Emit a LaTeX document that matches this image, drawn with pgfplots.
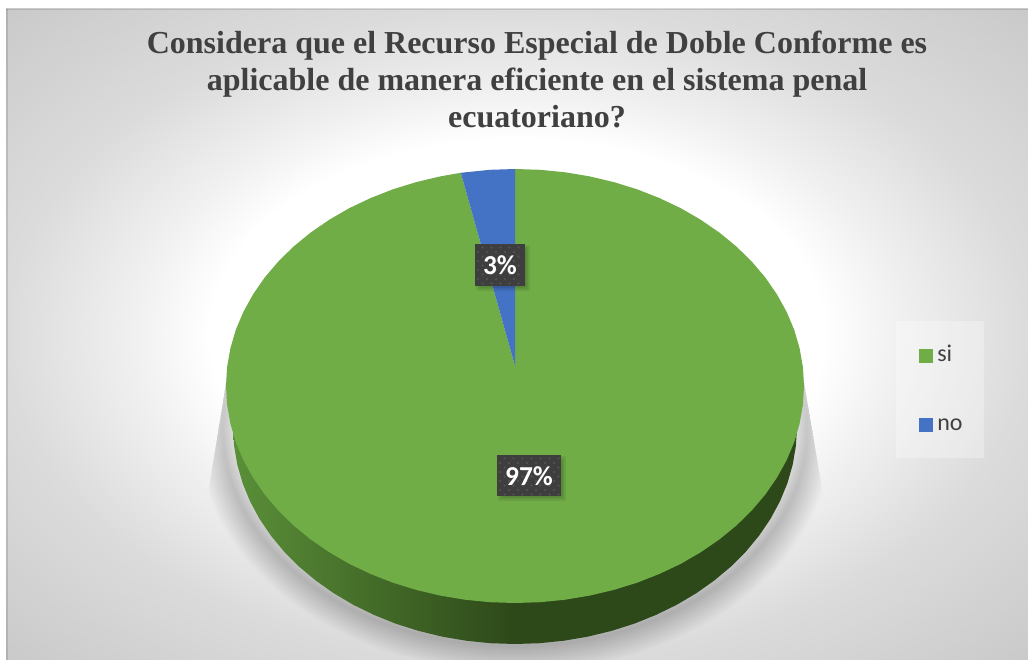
\documentclass[border=0pt]{standalone}
\usepackage{pgfplots}
\pgfplotsset{compat=1.18}
\usepackage{fontspec}
\setmainfont{Carlito}
\newfontfamily\titlefont{Liberation Serif}
\definecolor{pgreen}{HTML}{70AD47}
\definecolor{pblue}{HTML}{4472C4}
\definecolor{sideA}{HTML}{5A8F38}
\definecolor{sideB}{HTML}{2D4819}
\definecolor{boxc}{HTML}{3E3E3E}
\definecolor{dotc}{HTML}{565656}
\definecolor{ttxt}{HTML}{404040}
\pgfdeclareradialshading{chartbg}{\pgfpoint{0bp}{0bp}}{rgb(0bp)=(1,1,1); rgb(15bp)=(1,1,1); rgb(18.5bp)=(.945,.945,.945); rgb(25bp)=(.86,.86,.86); rgb(35.5bp)=(.79,.79,.79)}
\begin{document}
\begin{tikzpicture}
\useasboundingbox (0,0) rectangle (771pt,-495pt);
\begin{scope}[x=0.75pt,y=-0.75pt]
  % background
  \fill[white] (0,0) rectangle (1028,660);
  \shade[shading=chartbg] (6,9) rectangle (1028,660);
  \fill[black,opacity=.12] (6,9) rectangle (8,660);
  \fill[black,opacity=.12] (6,9) rectangle (1028,10);
  % shadow
  \begin{scope}
    \clip (231,352) -- (205,512) -- (205,660) -- (826,660) -- (826,512) -- (799,352) -- cycle;
    \foreach \w in {2,4,...,52}{
      \draw[black,opacity=.0095,line width=0.75*\w pt] (515,430) ellipse [x radius=292,y radius=216];
    }
  \end{scope}
  % legend background
  \fill[white,opacity=.3] (896,321) rectangle (984,458);
\end{scope}
\begin{axis}[
  at={(0,0)},anchor=north west,
  scale only axis,width=771pt,height=495pt,
  xmin=0,xmax=1028,ymin=0,ymax=660,y dir=reverse,
  hide axis,
  legend cell align=left,
  legend image code/.code={\fill[#1] (0pt,-5.25pt) rectangle (10.5pt,5.25pt);},
  legend style={draw=none,fill=none,at={(axis cs:919,348)},anchor=north west,
    font=\fontsize{18}{18}\selectfont\color{ttxt},row sep=41pt,inner sep=0pt,
    nodes={inner xsep=3pt,inner ysep=0pt,text height=10pt,text depth=1pt}},
]
% side of the disc
\addplot[forget plot,draw=none,left color=sideA,right color=sideB,middle color=sideB] coordinates {
(797,427)(795.9,445.9)(792.7,464.7)(787.4,483.2)(780,501.2)(770.6,518.7)(759.2,535.5)(746,551.5)(731,566.5)(714.4,580.4)(696.3,593.2)(676.7,604.8)(656,614.9)(634.2,623.7)(611.4,630.9)(588,636.6)(564,640.7)(539.6,643.2)(515,644)
(490.4,643.2)(466,640.7)(442,636.6)(418.6,630.9)(395.8,623.7)(374,614.9)(353.3,604.8)(333.7,593.2)(315.6,580.4)(299,566.5)(284,551.5)(270.8,535.5)(259.4,518.7)(250,501.2)(242.6,483.2)(237.3,464.7)(234.1,445.9)(233,427)
} --cycle;
% si: 97 %
\addplot[draw=none,fill=pgreen] coordinates {
(515,366)(515,169)(540.2,169.8)(565.2,172.3)(589.8,176.4)(613.8,182.1)(637.1,189.3)(659.5,198.1)(680.8,208.2)(700.8,219.8)(719.4,232.6)(736.4,246.5)(751.7,261.5)(765.3,277.5)(776.9,294.3)(786.6,311.8)(794.2,329.8)(799.6,348.3)(802.9,367.1)(804,386)
(802.9,404.9)(799.6,423.7)(794.2,442.2)(786.6,460.2)(776.9,477.7)(765.3,494.5)(751.7,510.5)(736.4,525.5)(719.4,539.4)(700.8,552.2)(680.8,563.8)(659.5,573.9)(637.1,582.7)(613.8,589.9)(589.8,595.6)(565.2,599.7)(540.2,602.2)(515,603)
(489.8,602.2)(464.8,599.7)(440.2,595.6)(416.2,589.9)(392.9,582.7)(370.5,573.9)(349.2,563.8)(329.2,552.2)(310.6,539.4)(293.6,525.5)(278.3,510.5)(264.7,494.5)(253.1,477.7)(243.4,460.2)(235.8,442.2)(230.4,423.7)(227.1,404.9)(226,386)
(227.1,367.1)(230.4,348.3)(235.8,329.8)(243.4,311.8)(253.1,294.3)(264.7,277.5)(278.3,261.5)(293.6,246.5)(310.6,232.6)(329.2,219.8)(349.2,208.2)(370.5,198.1)(392.9,189.3)(416.2,182.1)(440.2,176.4)(460.8,172.8)
} --cycle;
\addlegendentry{si}
% no: 3 %
\addplot[draw=none,fill=pblue] coordinates {
(515,366)(460.8,172.8)(489.8,169.8)(515,169)
} --cycle;
\addlegendentry{no}
\end{axis}
\begin{scope}[x=0.75pt,y=-0.75pt]
  % title
  \node[font=\titlefont\bfseries\fontsize{24}{27.6}\selectfont,text=ttxt,align=center,anchor=center] at (537,79.5)
    {Considera que el Recurso Especial de Doble Conforme es\\aplicable de manera eficiente en el sistema penal\\ecuatoriano?};
  % data label shadows
  \foreach \w in {1,3,...,11}{
    \fill[black,opacity=.07,rounded corners=1pt] ({475+10-\w*.8},{244+10-\w*.8}) rectangle ({525+\w*.8-4},{286+\w*.8-4});
    \fill[black,opacity=.07,rounded corners=1pt] ({497+10-\w*.8},{455+10-\w*.8}) rectangle ({561+\w*.8-4},{496+\w*.8-4});
  }
  % data label boxes
  \fill[boxc] (475,244) rectangle (525,286);
  \fill[boxc] (497,455) rectangle (561,496);
  \foreach \yy [count=\i] in {247.5,252,256.5,261,265.5,270,274.5,279,283.5}{
    \pgfmathsetmacro{\off}{mod(\i,2)*4.5}
    \foreach \xx in {478,487,...,519}{\fill[dotc] (\xx+\off,\yy) circle (1.1);}
  }
  \foreach \yy [count=\i] in {458.5,463,467.5,472,476.5,481,485.5,490,494.5}{
    \pgfmathsetmacro{\off}{mod(\i,2)*4.5}
    \foreach \xx in {500,509,...,554}{\fill[dotc] (\xx+\off,\yy) circle (1.1);}
  }
  \node[font=\bfseries\fontsize{20.5}{20.5}\selectfont,text=white] at (500,265.5) {3\%};
  \node[font=\bfseries\fontsize{20.5}{20.5}\selectfont,text=white] at (529,476.5) {97\%};
\end{scope}
\end{tikzpicture}
\end{document}
